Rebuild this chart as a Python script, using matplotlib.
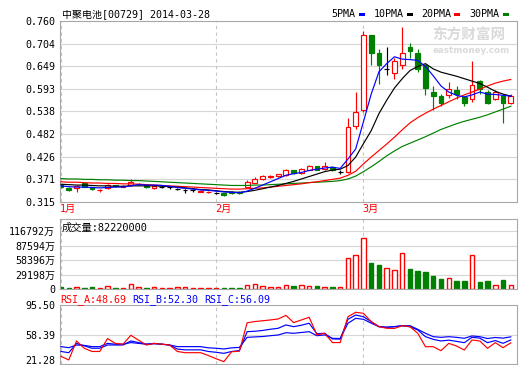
import matplotlib
matplotlib.use('Agg')
import matplotlib.pyplot as plt
import matplotlib.transforms as mtransforms
from matplotlib.patches import Rectangle
import numpy as np

plt.rcParams['font.family'] = ['DejaVu Sans Mono', 'Noto Sans CJK SC']

# ---------------- data ----------------
title = "中聚电池[00729] 2014-03-28"
month_labels = ["1月", "2月", "3月"]
month_start_idx = [0, 20, 39]
legend_labels = ["5PMA", "10PMA", "20PMA", "30PMA"]

opens = [0.356, 0.349, 0.348, 0.360, 0.350, 0.343, 0.348, 0.356, 0.352, 0.356,
         0.359, 0.356, 0.349, 0.352, 0.350, 0.346, 0.343, 0.343, 0.340, 0.339,
         0.337, 0.336, 0.340, 0.339, 0.350, 0.362, 0.370, 0.376, 0.378, 0.380,
         0.392, 0.386, 0.394, 0.402, 0.396, 0.401, 0.389, 0.389, 0.501, 0.540,
         0.726, 0.681, 0.643, 0.632, 0.652, 0.697, 0.681, 0.651, 0.585, 0.575,
         0.577, 0.590, 0.573, 0.569, 0.612, 0.585, 0.569, 0.576, 0.558]
highs = [0.358, 0.350, 0.356, 0.362, 0.352, 0.347, 0.358, 0.357, 0.356, 0.370,
         0.362, 0.357, 0.355, 0.354, 0.353, 0.349, 0.346, 0.345, 0.344, 0.342,
         0.340, 0.337, 0.342, 0.341, 0.368, 0.376, 0.380, 0.381, 0.384, 0.396,
         0.394, 0.398, 0.405, 0.404, 0.412, 0.404, 0.394, 0.520, 0.585, 0.735,
         0.726, 0.690, 0.697, 0.670, 0.746, 0.705, 0.690, 0.655, 0.600, 0.580,
         0.610, 0.600, 0.576, 0.661, 0.615, 0.590, 0.590, 0.580, 0.580]
lows = [0.348, 0.342, 0.340, 0.350, 0.344, 0.340, 0.346, 0.350, 0.350, 0.354,
        0.356, 0.349, 0.347, 0.349, 0.347, 0.343, 0.336, 0.340, 0.338, 0.336,
        0.333, 0.330, 0.334, 0.335, 0.348, 0.360, 0.368, 0.374, 0.376, 0.378,
        0.384, 0.384, 0.392, 0.392, 0.394, 0.391, 0.383, 0.385, 0.495, 0.535,
        0.652, 0.604, 0.626, 0.616, 0.643, 0.670, 0.635, 0.577, 0.540, 0.550,
        0.570, 0.568, 0.550, 0.560, 0.580, 0.555, 0.565, 0.509, 0.555]
closes = [0.351, 0.345, 0.353, 0.352, 0.346, 0.345, 0.356, 0.353, 0.354, 0.363,
          0.359, 0.351, 0.353, 0.352, 0.350, 0.346, 0.343, 0.343, 0.342, 0.340,
          0.337, 0.332, 0.337, 0.337, 0.364, 0.372, 0.378, 0.379, 0.382, 0.392,
          0.386, 0.395, 0.402, 0.394, 0.404, 0.393, 0.389, 0.499, 0.536, 0.726,
          0.681, 0.652, 0.643, 0.662, 0.680, 0.687, 0.643, 0.594, 0.575, 0.558,
          0.593, 0.580, 0.558, 0.603, 0.593, 0.558, 0.585, 0.558, 0.575]

ma5 = [0.354, 0.352, 0.351, 0.351, 0.350, 0.349, 0.350, 0.351, 0.351, 0.354,
       0.357, 0.356, 0.356, 0.355, 0.353, 0.350, 0.348, 0.346, 0.344, 0.343,
       0.341, 0.339, 0.338, 0.337, 0.341, 0.348, 0.356, 0.364, 0.372, 0.380,
       0.384, 0.387, 0.392, 0.395, 0.398, 0.400, 0.397, 0.420, 0.445, 0.512,
       0.580, 0.635, 0.655, 0.672, 0.666, 0.665, 0.663, 0.648, 0.625, 0.600,
       0.585, 0.577, 0.573, 0.578, 0.585, 0.580, 0.579, 0.577, 0.575]
ma10 = [0.358, 0.357, 0.356, 0.356, 0.355, 0.354, 0.354, 0.353, 0.353, 0.354,
        0.354, 0.354, 0.354, 0.353, 0.352, 0.351, 0.349, 0.347, 0.345, 0.344,
        0.342, 0.340, 0.339, 0.338, 0.340, 0.343, 0.347, 0.351, 0.355, 0.360,
        0.365, 0.371, 0.377, 0.383, 0.389, 0.393, 0.395, 0.404, 0.425, 0.458,
        0.490, 0.532, 0.565, 0.595, 0.618, 0.638, 0.648, 0.655, 0.642, 0.634,
        0.629, 0.624, 0.618, 0.612, 0.606, 0.597, 0.587, 0.580, 0.575]
ma20 = [0.364, 0.363, 0.363, 0.362, 0.361, 0.361, 0.360, 0.360, 0.359, 0.359,
        0.358, 0.357, 0.356, 0.355, 0.354, 0.353, 0.352, 0.351, 0.350, 0.349,
        0.348, 0.347, 0.346, 0.346, 0.347, 0.348, 0.349, 0.351, 0.353, 0.355,
        0.357, 0.359, 0.362, 0.364, 0.367, 0.370, 0.373, 0.380, 0.390, 0.408,
        0.425, 0.441, 0.457, 0.474, 0.492, 0.509, 0.522, 0.533, 0.543, 0.552,
        0.561, 0.570, 0.578, 0.585, 0.592, 0.600, 0.607, 0.612, 0.616]
ma30 = [0.372, 0.371, 0.371, 0.370, 0.370, 0.369, 0.369, 0.368, 0.368, 0.367,
        0.367, 0.366, 0.365, 0.364, 0.363, 0.362, 0.361, 0.360, 0.359, 0.358,
        0.357, 0.356, 0.355, 0.355, 0.355, 0.356, 0.356, 0.357, 0.358, 0.359,
        0.360, 0.361, 0.362, 0.363, 0.364, 0.365, 0.367, 0.371, 0.378, 0.389,
        0.401, 0.414, 0.428, 0.440, 0.451, 0.459, 0.467, 0.475, 0.484, 0.493,
        0.500, 0.507, 0.513, 0.518, 0.523, 0.529, 0.536, 0.543, 0.550]

volume = [4000, 2000, 4000, 2000, 4000, 2000, 6000, 2000, 2000, 10000,
          3500, 2000, 4000, 2000, 2000, 4000, 4000, 2000, 2000, 2000,
          2000, 2000, 2000, 2500, 8000, 10000, 6000, 4000, 4000, 8000,
          6000, 7500, 5400, 5400, 3400, 4000, 4000, 61600, 68000, 102000,
          52700, 48300, 41600, 37600, 72000, 40300, 35500, 33400, 25400, 20700,
          22200, 16700, 16700, 69000, 13300, 15300, 8700, 17300, 8222]  # 万

rsi_a = [32, 27.5, 51, 42, 38, 38, 54, 48, 47, 58,
         52, 46, 48, 47, 46, 38, 36.5, 36.5, 36.5, 33,
         29, 25.4, 37.7, 38.3, 73.5, 75, 76, 77, 78.2, 82.7,
         73.7, 77, 80.3, 58.5, 60.5, 49, 49, 81, 86.5, 85.2,
         74.9, 68.7, 66.7, 66.5, 69.9, 68.7, 60.5, 43.9, 43.9, 39,
         48, 44.8, 39.8, 52.2, 51, 41.9, 48.9, 42.7, 48.69]
rsi_b = [38, 36.5, 48, 45, 42, 42, 46, 46, 46, 51,
         49, 47, 48, 47, 46, 41, 40, 40, 40, 38,
         37, 35.7, 38, 39, 62.5, 63, 64, 65.5, 66.7, 70.8,
         68.7, 70.5, 72.9, 60, 60.5, 53.5, 53.3, 77.8, 83.1, 81,
         74.9, 68.7, 68, 68.7, 69.9, 68.5, 64.6, 56.3, 53, 51,
         52, 50.5, 48.9, 55.5, 54.5, 48.9, 51.5, 48.1, 52.30]
rsi_c = [44, 42.7, 46, 45.5, 44, 44, 48, 47, 47, 49,
         48, 47, 47.5, 47, 46, 44, 44, 44, 44, 42.5,
         42, 41.1, 42.5, 43, 55.5, 56, 56.5, 57.5, 58.4, 61.2,
         60.5, 61.5, 62.5, 57.5, 58.5, 54.3, 54, 72.9, 79, 77.8,
         73, 68.7, 68, 68.7, 69.9, 69.9, 65.4, 60.5, 56.3, 55.5,
         56.3, 55.5, 54.3, 57.2, 56.3, 54, 55.3, 54.5, 56.09]

price_tick_labels = ["0.315", "0.371", "0.426", "0.482", "0.538", "0.593", "0.649", "0.704", "0.760"]
vol_ticks = [0, 29198, 58396, 87594, 116792]
vol_tick_labels = ["0", "29198万", "58396万", "87594万", "116792万"]
rsi_tick_labels = ["21.28", "58.39", "95.50"]

# ---------------- layout ----------------
W, H = 520, 365
fig = plt.figure(figsize=(W / 100, H / 100), dpi=100)
fig.patch.set_facecolor('white')

def box(x0, y0, x1, y1):
    return [x0 / W, 1 - y1 / H, (x1 - x0) / W, (y1 - y0) / H]

def fx(px):
    return px / W

def fy(py):
    return 1 - py / H

RED = '#ff0000'
GREEN = '#008000'
BLUE = '#0000ff'
GRID = '#d6d6d6'
BORDER = '#a8a8a8'
FS = 7.2

ax = fig.add_axes(box(60, 21, 517, 201.7))
axv = fig.add_axes(box(60, 219, 517, 289))
axr = fig.add_axes(box(60, 305, 517, 364))

n = len(closes)
xs = np.arange(n)
XL = (-0.13, 58.8)

def style(a):
    for s in a.spines.values():
        s.set_color(BORDER)
        s.set_linewidth(0.8)
    a.set_xlim(*XL)
    a.set_xticks([])
    a.tick_params(axis='y', length=0, pad=3.5, labelsize=FS, colors='black')
    for m in month_start_idx:
        a.axvline(m, color='#c4c4c4', lw=0.8, ls=(0, (3, 3)), zorder=0.6)

for a in (ax, axv, axr):
    style(a)

# ---------------- main price panel ----------------
pt = [float(s) for s in price_tick_labels]
ax.set_ylim(pt[0], pt[-1])
ax.set_yticks(pt)
ax.set_yticklabels(price_tick_labels)
for v in pt[1:-1]:
    ax.axhline(v, color=GRID, lw=0.8, zorder=0.5)

w = 0.62
for i in range(n):
    o, h, l, c = opens[i], highs[i], lows[i], closes[i]
    if c > o:
        ax.vlines(i, c, h, color=RED, lw=0.85, zorder=2)
        ax.vlines(i, l, o, color=RED, lw=0.85, zorder=2)
        ax.add_patch(Rectangle((i - w / 2, o), w, c - o, facecolor='white',
                               edgecolor=RED, lw=0.85, zorder=2))
    elif c < o:
        ax.vlines(i, l, h, color=GREEN, lw=0.85, zorder=2)
        ax.add_patch(Rectangle((i - w / 2, c), w, o - c, facecolor=GREEN,
                               edgecolor=GREEN, lw=0.85, zorder=2))
    else:
        ax.vlines(i, l, h, color='black', lw=0.85, zorder=2)
        ax.hlines(o, i - w / 2, i + w / 2, color='black', lw=0.85, zorder=2)

ax.plot(xs, ma30, color=GREEN, lw=0.85, zorder=3)
ax.plot(xs, ma20, color=RED, lw=0.85, zorder=3)
ax.plot(xs, ma10, color='black', lw=0.85, zorder=3)
ax.plot(xs, ma5, color=BLUE, lw=0.85, zorder=3)

# watermark
ax.text(0.815, 0.925, "东方财富网", transform=ax.transAxes, fontsize=10.5,
        color='#dadada', fontweight='bold', family=['Noto Sans CJK SC'],
        ha='left', va='center', zorder=0.4)
ax.text(0.815, 0.835, "eastmoney.com", transform=ax.transAxes, fontsize=6.3,
        color='#dadada', fontweight='bold', family=['DejaVu Sans'],
        ha='left', va='center', zorder=0.4)

# month labels
trans = mtransforms.blended_transform_factory(ax.transData, ax.transAxes)
for m, lab in zip(month_start_idx, month_labels):
    ax.text(m - 0.15, -0.04, lab, transform=trans, color=RED, fontsize=7.3,
            ha='left', va='center')

# title and legend
fig.text(fx(62), fy(14), title, fontsize=FS, ha='left', va='center')
leg_x = [331.5, 374, 421.5, 469]
sq_x = [359, 406.5, 454, 502.5]
leg_cols = [BLUE, 'black', RED, GREEN]
for lab, tx, sx, col in zip(legend_labels, leg_x, sq_x, leg_cols):
    fig.text(fx(tx), fy(14), lab, fontsize=FS, ha='left', va='center')
    fig.add_artist(Rectangle((fx(sx), fy(15.5)), 6 / W, 3 / H, transform=fig.transFigure,
                             facecolor=col, edgecolor='none'))

# ---------------- volume panel ----------------
axv.set_ylim(0, 141000)
axv.set_yticks(vol_ticks)
axv.set_yticklabels(vol_tick_labels)
for v in vol_ticks[1:]:
    axv.axhline(v, color=GRID, lw=0.8, zorder=0.5)
vw = 0.58
for i in range(n):
    if closes[i] >= opens[i]:
        axv.add_patch(Rectangle((i - vw / 2, 0), vw, volume[i], facecolor='white',
                                edgecolor=RED, lw=1.0, zorder=2))
    else:
        axv.add_patch(Rectangle((i - vw / 2, 0), vw, volume[i], facecolor=GREEN,
                                edgecolor=GREEN, lw=1.0, zorder=2))
axv.text(0.003, 1 - 3.5 / 70, "成交量:%d" % int(round(volume[-1] * 10000)),
         transform=axv.transAxes, fontsize=7.4, ha='left', va='top', zorder=4)

# ---------------- RSI panel ----------------
rt = [float(s) for s in rsi_tick_labels]
axr.set_ylim(22.5, 95.5)
axr.set_yticks(rt[1:])
axr.set_yticklabels(rsi_tick_labels[1:])
fig.text(fx(55.5), fy(360.5), rsi_tick_labels[0], fontsize=FS, ha='right', va='center')
axr.axhline(rt[1], color=GRID, lw=0.8, zorder=0.5)
axr.plot(xs, rsi_c, color=BLUE, lw=0.85, zorder=3)
axr.plot(xs, rsi_b, color=BLUE, lw=0.85, zorder=3)
axr.plot(xs, rsi_a, color=RED, lw=0.85, zorder=3)

fig.text(fx(60), fy(300), "RSI_A:%.2f" % rsi_a[-1], color=RED, fontsize=FS, ha='left', va='center')
fig.text(fx(132), fy(300), "RSI_B:%.2f" % rsi_b[-1], color=BLUE, fontsize=FS, ha='left', va='center')
fig.text(fx(204), fy(300), "RSI_C:%.2f" % rsi_c[-1], color=BLUE, fontsize=FS, ha='left', va='center')

fig.savefig('out.png', dpi=100, facecolor='white')
